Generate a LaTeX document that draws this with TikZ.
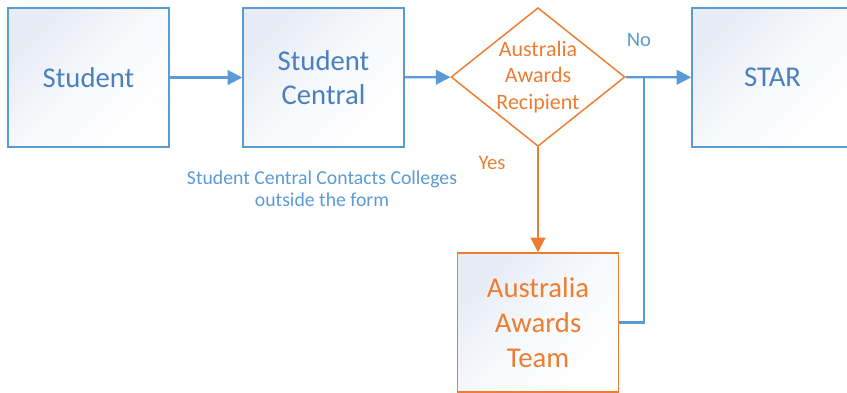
\documentclass[tikz,border=0pt]{standalone}
\usepackage{fontspec}
\setmainfont{Carlito}
\usetikzlibrary{shapes.geometric,arrows.meta}
\definecolor{flowblue}{HTML}{5B9BD5}
\definecolor{flowtext}{HTML}{4A80BE}
\definecolor{floworange}{HTML}{ED7D31}
\definecolor{boxtint}{HTML}{E6EBF5}
\begin{document}
\begin{tikzpicture}[x=0.75pt, y=-0.75pt, line width=1.6pt, >={Triangle[length=11pt,width=11pt]},
main box/.style={rectangle,draw=flowblue,line width=1.1pt,top color=boxtint,bottom color=white,middle color=white!70!boxtint,shading angle=45,minimum width=120.75pt,minimum height=104.25pt,inner sep=0pt,align=center,text=flowtext,font=\fontsize{21.5}{26}\selectfont},
team box/.style={main box,draw=floworange,text=floworange},
choice node/.style={diamond,draw=floworange,line width=1.1pt,fill=white,minimum width=130.5pt,minimum height=104pt,inner sep=0pt},
choice text/.style={align=center,inner sep=0pt,text=floworange,font=\fontsize{16.5}{20}\selectfont},
note/.style={align=center,inner sep=0pt,font=\fontsize{15.5}{17}\selectfont}]%
\useasboundingbox (0,0) rectangle (847,393);
\clip (0,0) rectangle (847,393);
\begin{scope}
\node[main box] (student) at (88.5,77.5) {Student};
\node[main box] (central) at (323.5,77.5) {Student\\Central};
\node[choice node] (recip) at (538,77) {};
\node[choice text] (reciptext) at (recip) {Australia\\Awards\\Recipient};
\node[main box] (star) at (772.5,77.5) {STAR};
\node[team box] (team) at (538,322.5) {Australia\\Awards\\Team};
\coordinate (join) at (644,77);
%\node[main box] () at (,) {};
\end{scope}
\begin{scope}[every node/.style={note}]
\node[text=flowblue,font=\fontsize{14.8}{16.5}\selectfont] (contact) at (322,189) {Student Central Contacts Colleges\\outside the form};
\node[text=flowblue] (no) at (639,40) {No};
\node[text=floworange] (yes) at (492,163) {Yes};
\end{scope}
\begin{scope}[draw=flowblue]
\draw[->,flowblue] (student) -- (central);
\draw[->,flowblue] (central) -- (recip);
\draw[->,flowblue] (recip) -- (star);
\draw[flowblue] (team.east) -| (join);
\draw[->,floworange] (recip) -- (team);
\end{scope}
\end{tikzpicture}
\end{document}
